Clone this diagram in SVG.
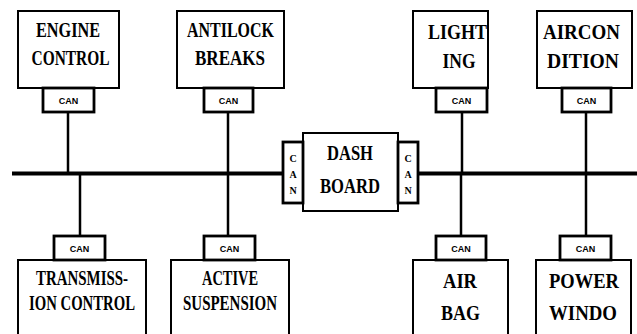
<svg xmlns="http://www.w3.org/2000/svg" width="637" height="334" viewBox="0 0 637 334">
<style>
.box{fill:#fff;stroke:#000;stroke-width:2}
.can{fill:#fff;stroke:#000;stroke-width:2.8}
.t{font-family:"Liberation Serif","DejaVu Serif",serif;font-weight:bold;font-size:21px;text-anchor:middle;fill:#000}
.tb{font-size:22px}
.c{font-family:"Liberation Sans","DejaVu Sans",sans-serif;font-weight:bold;font-size:9px;text-anchor:middle;fill:#000}
.cv{font-family:"Liberation Serif","DejaVu Serif",serif;font-weight:bold;font-size:10px;text-anchor:middle;fill:#000}
.wire{stroke:#000;stroke-width:2.5;fill:none}
.bus{stroke:#000;stroke-width:4;fill:none}
</style>
<rect width="637" height="334" fill="#fff"/>
<g id="connectors">
<line class="bus" x1="12" y1="173.5" x2="283" y2="173.5"/>
<line class="bus" x1="418" y1="173.5" x2="637" y2="173.5"/>
<line class="wire" x1="68" y1="112" x2="68" y2="173"/>
<line class="wire" x1="228" y1="112" x2="228" y2="173"/>
<line class="wire" x1="462" y1="112" x2="462" y2="173"/>
<line class="wire" x1="586" y1="112" x2="586" y2="173"/>
<line class="wire" x1="80" y1="174" x2="80" y2="236"/>
<line class="wire" x1="228" y1="174" x2="228" y2="236"/>
<line class="wire" x1="461" y1="174" x2="461" y2="236"/>
<line class="wire" x1="586" y1="174" x2="586" y2="236"/>
</g>
<g id="engine">
<rect class="box" x="18" y="11" width="101" height="77"/>
<text class="t" x="68" y="36.5" textLength="64" lengthAdjust="spacingAndGlyphs">ENGINE</text>
<text class="t" x="70.5" y="65" textLength="78" lengthAdjust="spacingAndGlyphs">CONTROL</text>
<rect class="can" x="43" y="88" width="51" height="24"/>
<text class="c" x="68.5" y="104">CAN</text>
</g>
<g id="antilock">
<rect class="box" x="177" y="11" width="107" height="77"/>
<text class="t" x="230.5" y="36.5" textLength="87" lengthAdjust="spacingAndGlyphs">ANTILOCK</text>
<text class="t" x="230" y="65" textLength="70" lengthAdjust="spacingAndGlyphs">BREAKS</text>
<rect class="can" x="204" y="88" width="49" height="24"/>
<text class="c" x="228.5" y="104">CAN</text>
</g>
<g id="lighting">
<rect class="box" x="413" y="11" width="75" height="77"/>
<text class="t" x="457.5" y="39" textLength="59" lengthAdjust="spacingAndGlyphs">LIGHT</text>
<text class="t" x="459" y="68" textLength="33" lengthAdjust="spacingAndGlyphs">ING</text>
<rect class="can" x="436" y="88" width="51" height="24"/>
<text class="c" x="461.5" y="104">CAN</text>
</g>
<g id="aircondition">
<rect class="box" x="537" y="11" width="95" height="77"/>
<text class="t" x="581.5" y="39" textLength="77" lengthAdjust="spacingAndGlyphs">AIRCON</text>
<text class="t" x="583" y="68" textLength="72" lengthAdjust="spacingAndGlyphs">DITION</text>
<rect class="can" x="562" y="88" width="49" height="24"/>
<text class="c" x="586.5" y="104">CAN</text>
</g>
<g id="dashboard">
<rect class="box" x="303" y="133" width="95" height="78"/>
<text class="t" x="350" y="160" textLength="46" lengthAdjust="spacingAndGlyphs">DASH</text>
<text class="t" x="350" y="193" textLength="60" lengthAdjust="spacingAndGlyphs">BOARD</text>
<rect class="can" x="283" y="142" width="20" height="61"/>
<text class="cv" x="293" y="162">C</text>
<text class="cv" x="293" y="178">A</text>
<text class="cv" x="293" y="194">N</text>
<rect class="can" x="398" y="142" width="20" height="61"/>
<text class="cv" x="408" y="162">C</text>
<text class="cv" x="408" y="178">A</text>
<text class="cv" x="408" y="194">N</text>
</g>
<g id="transmission">
<rect class="box" x="18" y="260" width="128" height="80"/>
<text class="t" x="82" y="285" textLength="92" lengthAdjust="spacingAndGlyphs">TRANSMISS-</text>
<text class="t" x="82" y="310" textLength="106" lengthAdjust="spacingAndGlyphs">ION CONTROL</text>
<rect class="can" x="54" y="236" width="51" height="24"/>
<text class="c" x="79.5" y="252">CAN</text>
</g>
<g id="suspension">
<rect class="box" x="171" y="260" width="118" height="80"/>
<text class="t" x="230" y="285" textLength="56" lengthAdjust="spacingAndGlyphs">ACTIVE</text>
<text class="t" x="230" y="310" textLength="94" lengthAdjust="spacingAndGlyphs">SUSPENSION</text>
<rect class="can" x="204" y="236" width="51" height="24"/>
<text class="c" x="229.5" y="252">CAN</text>
</g>
<g id="airbag">
<rect class="box" x="413" y="260" width="95" height="80"/>
<text class="t tb" x="460" y="288" textLength="34" lengthAdjust="spacingAndGlyphs">AIR</text>
<text class="t tb" x="460.5" y="320" textLength="39" lengthAdjust="spacingAndGlyphs">BAG</text>
<rect class="can" x="436" y="236" width="50" height="24"/>
<text class="c" x="461" y="252">CAN</text>
</g>
<g id="powerwindow">
<rect class="box" x="536" y="260" width="95" height="80"/>
<text class="t tb" x="584" y="288" textLength="70" lengthAdjust="spacingAndGlyphs">POWER</text>
<text class="t tb" x="583" y="320" textLength="68" lengthAdjust="spacingAndGlyphs">WINDO</text>
<rect class="can" x="560" y="236" width="51" height="24"/>
<text class="c" x="585.5" y="252">CAN</text>
</g>
</svg>
